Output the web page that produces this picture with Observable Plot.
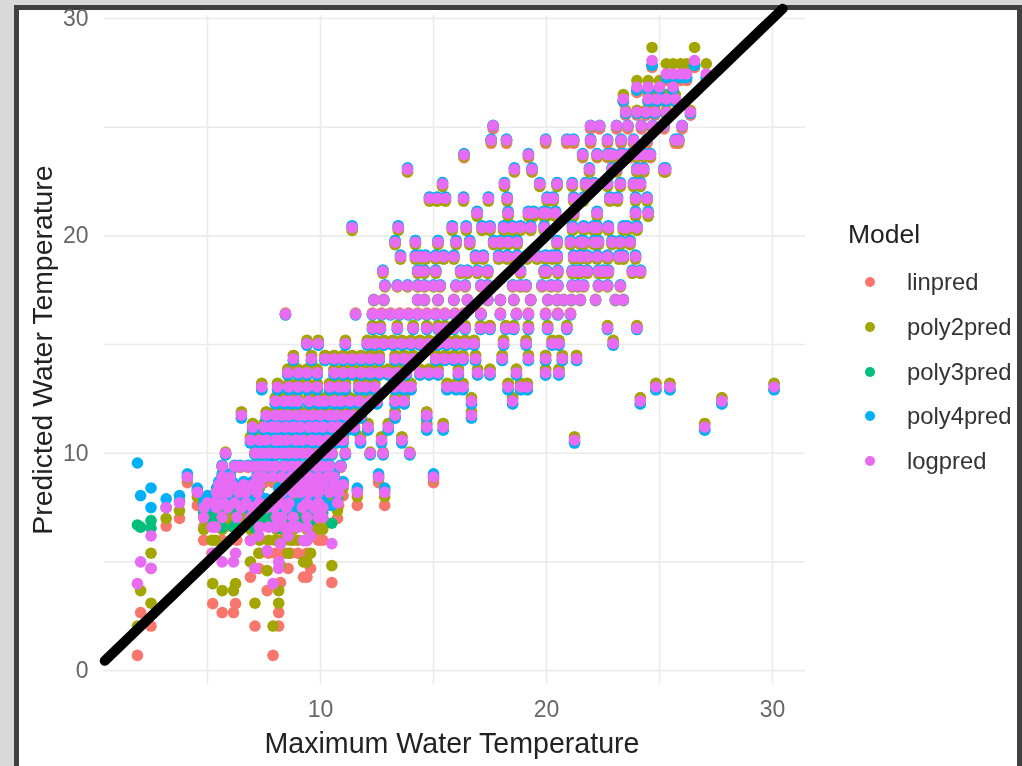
<!DOCTYPE html>
<html><head><meta charset="utf-8">
<script src="https://cdn.jsdelivr.net/npm/d3@7"></script>
<script src="https://cdn.jsdelivr.net/npm/@observablehq/plot@0.6"></script>
<style>
html,body{margin:0;padding:0;background:#d9d9d9;width:1022px;height:766px;overflow:hidden;font-family:"Liberation Sans",Arial,sans-serif}
#frame{position:absolute;left:14px;top:5px;width:998px;height:770px;background:#fff;border:5px solid #404040;border-bottom:none}
#chart{position:absolute;left:0;top:0;width:1022px;height:766px;filter:blur(.6px)}
#chart svg{background:transparent;position:absolute;left:0;top:0;max-width:none}
#legend{position:absolute;left:0;top:0;filter:blur(.4px)}
#legend .t{position:absolute;left:848px;top:218px;font-size:26.5px;color:#222;line-height:32px;white-space:nowrap}
#legend .l{position:absolute;left:907px;font-size:23.8px;color:#333;line-height:28px;white-space:nowrap}
#legend .d{position:absolute;left:865px;width:10px;height:10px;border-radius:50%}
</style></head><body>
<div id="frame"></div><div id="chart"></div><div id="legend"></div>
<script>
const models = ["linpred","poly2pred","poly3pred","poly4pred","logpred"];
const colors = ["#F8766D","#A3A500","#00BF7D","#00B0F6","#E76BF3"];
const linpred  = [.7,2.05,2.67,3.08,3.68,4.05,4.3,4.7,5.4,6.0,6.65,7.0,7.6,8.05,8.65,9.35,10.0,10.75,11.35,11.9,12.55,13.2,13.85,14.5,15.15,15.85,16.45,17.08,17.7,18.35,19.0,19.65,20.33,21.0,21.65,22.29,22.94,23.6,24.26,24.92,25.55,26.15,26.6,27.15,27.75];
const poly2pred= [2.05,3.1,3.68,4.0,4.6,4.83,5.0,5.4,6.0,6.5,7.0,7.36,8.0,8.4,8.85,9.43,10.05,10.75,11.37,11.9,12.55,13.22,13.87,14.5,15.2,15.87,16.4,17.02,17.65,18.28,18.93,19.6,20.25,20.9,21.6,22.28,22.95,23.65,24.35,25.06,25.78,26.5,27.15,27.92,28.67];
const poly3pred= [6.7,6.55,6.6,6.7,6.75,6.78,6.8,6.9,7.05,7.25,7.5,7.8,8.3,8.6,8.95,9.4,9.92,10.52,11.08,11.63,12.28,12.93,13.6,14.27,14.98,15.7,16.37,17.05,17.72,18.41,19.09,19.78,20.44,21.12,21.78,22.44,23.1,23.76,24.42,25.06,25.65,26.22,26.72,27.3,27.85];
const poly4pred= [9.55,8.4,8.05,7.8,7.7,7.6,7.55,7.5,7.55,7.65,7.9,8.05,8.4,8.7,9.05,9.45,9.95,10.47,11.06,11.62,12.27,12.92,13.6,14.27,14.97,15.7,16.37,17.05,17.75,18.43,19.12,19.78,20.47,21.13,21.79,22.45,23.13,23.79,24.45,25.09,25.65,26.2,26.72,27.28,27.85];
const logpred  = [4.0,4.7,5.0,5.4,5.52,5.84,5.98,6.2,6.6,7.05,7.5,7.72,8.2,8.55,8.9,9.4,10.0,10.6,11.2,11.75,12.4,13.05,13.7,14.35,15.05,15.75,16.4,17.05,17.7,18.37,19.04,19.71,20.38,21.05,21.72,22.39,23.06,23.73,24.4,25.07,25.7,26.3,26.85,27.45,28.07];
// observed maximum water temperatures, one list per predictor level
const observedAtLevel = [
[1.9,7.9],
[2.5,7.1,8.15],
[2.04,5.65,6.15,8.15],
[5.23,6.24],
[7.64],
[8.23,10.5],
[6.9,9.25,9.4],
[2.5,7.27,8.57,9.56],
[5.2,5.35,7.3,7.7,8.0,8.4,8.67,9.0,9.4],
[4.83,5.65,6.3,6.9,8.05,8.3,8.8,9.4,9.9,10.1],
[3.17,4.85,5.4,5.9,6.5,7.0,7.6,7.95,8.5,9.2,9.7,10.1],
[3.76,5.0,5.3,5.7,6.2,6.7,7.3,8.2,8.6,9.4,9.9,10.75],
[4.55,5.4,5.55,5.9,6.4,6.7,7.2,8.3,8.8,9.1,9.5,9.9,10.4,10.8,11.63,12.84],
[5.5,5.8,6.1,6.6,7.0,7.3,8.6,8.9,9.3,9.7,10.1,10.6,11.0],
[4.11,5.65,6.0,7.2,7.5,7.9,8.3,8.7,9.0,9.5,9.9,10.3,10.6,12.57,15],
[5.65,6.2,6.45,6.8,7.1,7.4,7.7,8.0,8.4,8.7,9.0,9.4,9.8,10.1,10.4,10.9],
[5.8,7.1,7.4,7.7,8.0,8.3,8.6,8.9,9.2,9.5,9.9,10.2,10.5,11.1,12.2,12.77,13.95],
[6.9,7.3,7.6,8.0,8.2,8.5,8.9,9.2,9.6,9.9,10.3,10.7,11.0,11.77,12.7,13.6,21.24],
[7.0,7.5,7.85,8.1,8.45,8.8,9.1,9.5,9.8,10.1,10.5,10.8,11.2,11.5,12.1,13.0,14.7,15.43,27.0],
[6.5,7.6,8.0,8.3,8.6,9.0,9.3,9.65,10.0,10.4,10.7,11.1,11.4,11.8,13.3,14.7,16.68],
[8.0,8.4,8.7,9.0,9.5,9.9,10.2,10.6,10.9,11.3,11.7,12.2,12.5,13.3,13.7,16.68,18.5,24.15,27.76],
[7.4,8.1,8.6,9.0,9.4,9.85,10.4,10.8,11.1,11.7,12.0,12.4,13.3,13.7,14.0,15.6,16.0,16.3,18.3,18.85,19.15,24.84,25.46,30.07],
[8.55,9.0,9.4,9.85,10.6,11.0,11.4,11.8,12.2,12.6,13.0,13.4,13.8,14.4,14.8,15.2,16.1,16.95,17.5,18.67,19.96,20.55],
[8.8,9.6,10.2,10.6,11.0,11.4,11.8,12.2,12.6,13.3,13.7,14.1,15.1,15.5,15.9,16.3,16.86,18.04,19.2,19.96,20.7,21.33],
[9.4,9.9,11.1,12.07,12.4,12.8,13.2,13.6,14.0,14.4,14.8,15.2,15.6,16.0,16.4,16.8,18.1,19.1,20.25,20.55,22.95],
[12.3,12.65,13.4,14.1,14.7,15.2,15.5,15.9,16.4,17.08,17.5,18.2,18.55,19.2,20.05,20.9,22.7,24.0],
[8.45,11.55,12.3,12.7,13.1,13.5,13.9,14.3,14.7,15.1,15.5,15.95,16.35,17.1,17.96,18.67,19.2,19.96,20.5,21.06],
[12.36,12.8,14.3,14.6,15.2,15.9,16.5,17.4,17.96,18.55,19.3,20.06,20.47,20.76,21.1,21.5,22.17,23.05,23.4],
[12.85,13.4,13.85,14.3,14.6,15.0,15.3,16.0,16.4,17.1,17.4,18.5,18.85,19.1,19.8,20.2,20.5,21.14,21.4,21.64,22.3,22.7,23.27],
[12.76,14.3,14.6,15.1,16.2,16.5,16.95,17.4,18.85,19.9,20.0,20.5,21.14,21.36,21.5,21.8,22.3,22.5,22.74,23.8,24.16],
[13.54,14.2,14.42,14.65,15.1,15.45,15.9,16.86,17.2,17.88,18.26,18.7,19.14,19.58,19.96,20.25,20.47,21.2,21.5,21.8,22.24,22.7,23.2,23.4,23.94],
[13.3,14.2,15.2,16.0,16.6,17.66,17.96,18.3,18.7,20.47,21.06,21.5,21.64,22.1,22.3,22.9,23.27,23.7],
[11.4,13.44,15.83,16.45,17.15,17.5,18.1,18.5,18.85,19.3,19.9,21.15,21.64,22.08,22.24,22.74,23.4,23.57,24.0],
[16.93,18.3,19.2,19.43,19.87,20.0,20.4,21.2,22.24,23.94,24.5],
[14.82,15.16,15.53,16.33,17.43,18.26,20.03,20.3,21.2,21.64,22.8,23.14,23.94,24.45],
[15.4,18.14,19.7,20.47,21.14,21.73,22.1,22.7,23.27,23.85,24.16],
[13.85,18.58,19.36,21.9,22.9,23.1,24.0,24.3,25.2,25.27],
[16.35,19.2,21.6,22.24,22.7,22.9,23.3,23.4,23.7,24.0,24.3,24.6],
[17.55,18.23,19.96,20.9,21.2,21.95,22.7,23.3,23.85,24.45,25.7,25.85],
[17.64,21.95,22.35,23.1,23.6,24.2,24.7,25.2,26.0],
[23.5,24.0,24.4,24.8,25.3,26.37],
[23.4,24.5,24.9,25.3,25.7],
[24.0,24.5,25.0,25.6],
[25.3,25.6,25.93,26.2,27.07],
[24.67,26.55]
];
const gridValues = [0,5,10,15,20,25,30];
const xGridValues = [5,10,15,20,25,30];
const tickValues = [10,20,30];
const yTickValues = [0,10,20,30];
const identity = [0.45,30.45];
const series = [linpred,poly2pred,poly3pred,poly4pred,logpred];
const rows = models.flatMap((m,k)=>observedAtLevel.flatMap((xs,i)=>xs.map(x=>({model:m,x,y:series[k][i]}))));

const plot = Plot.plot({
  width:1022,height:766,marginLeft:104,marginRight:217,marginTop:15,marginBottom:82,
  style:{fontFamily:'"Liberation Sans",Arial,sans-serif',background:"transparent"},
  x:{domain:[0.442,31.46]},
  y:{domain:[-0.64,30.14]},
  color:{domain:models,range:colors},
  marks:[
    Plot.ruleX(xGridValues,{stroke:"#ebebeb",strokeWidth:1.6}),
    Plot.ruleY(gridValues,{stroke:"#ebebeb",strokeWidth:1.6}),
    Plot.axisX({ticks:tickValues,tickSize:0,tickPadding:16,fontSize:23,fill:"#666",label:null}),
    Plot.axisY({ticks:yTickValues,tickSize:0,tickPadding:16,fontSize:23,fill:"#666",label:null}),
    Plot.dot(rows,{x:"x",y:"y",fill:"model",r:5.8,stroke:"none"}),
    Plot.line(identity.map(v=>({x:v,y:v})),{x:"x",y:"y",stroke:"#000",strokeWidth:10,strokeLinecap:"round",clip:false}),
    Plot.text(["Maximum Water Temperature"],{frameAnchor:"bottom",dx:-3,dy:68,fontSize:28.6,fill:"#222",text:d=>d}),
    Plot.text(["Predicted Water Temperature"],{frameAnchor:"left",dx:-62,rotate:-90,textAnchor:"middle",fontSize:28.4,fill:"#222",text:d=>d})
  ]
});
document.getElementById("chart").appendChild(plot);

const legendY=[282,327,372,416,461];
const legend=document.getElementById("legend");
legend.innerHTML='<div class="t">Model</div>'+models.map((m,i)=>
 `<div class="d" style="top:${legendY[i]-5}px;background:${colors[i]}"></div><div class="l" style="top:${legendY[i]-14}px">${m}</div>`).join("");
</script></body></html>
